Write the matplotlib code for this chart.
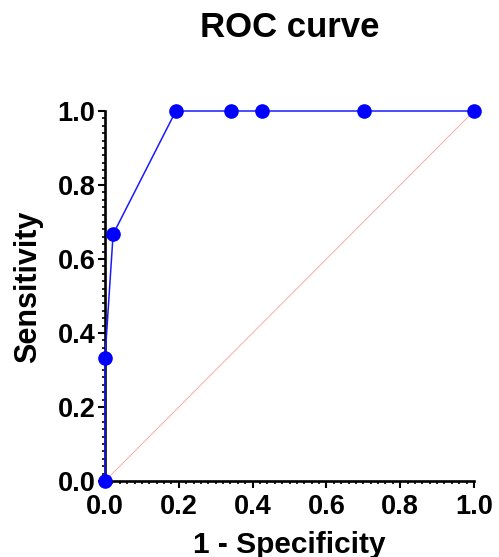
import matplotlib
matplotlib.use('Agg')
import matplotlib.pyplot as plt
from matplotlib.ticker import MultipleLocator

# ROC points
fpr = [0.0, 0.0, 0.022, 0.192, 0.341, 0.425, 0.703, 1.0]
tpr = [0.0, 0.333, 0.667, 1.0, 1.0, 1.0, 1.0, 1.0]
ref_line = [0.0, 1.0]
ticks = [0.0, 0.2, 0.4, 0.6, 0.8, 1.0]

plt.rcParams['font.family'] = ['Liberation Sans', 'DejaVu Sans']
plt.rcParams['font.weight'] = 'bold'

fig = plt.figure(figsize=(4.99, 5.57), dpi=100)
ax = fig.add_axes([105 / 499, 1 - 481 / 557, 369 / 499, 370 / 557])

# reference diagonal
ax.plot(ref_line, ref_line, color='#ff9c9c', lw=0.6, zorder=1)
ax.plot(fpr, tpr, color='#1a1aff', lw=1.1, marker='o', markersize=9.5,
        markerfacecolor='blue', markeredgecolor='blue', clip_on=False, zorder=3)

ax.set_xlim(0, 1)
ax.set_ylim(0, 1)
ax.set_xticks(ticks)
ax.set_yticks(ticks)
ax.set_xticklabels([f'{t:.1f}' for t in ticks])
ax.set_yticklabels([f'{t:.1f}' for t in ticks])
ax.xaxis.set_minor_locator(MultipleLocator(0.02))
ax.yaxis.set_minor_locator(MultipleLocator(0.02))

for s in ['top', 'right']:
    ax.spines[s].set_visible(False)
for s in ['left', 'bottom']:
    ax.spines[s].set_linewidth(1.9)

ax.tick_params(which='major', direction='out', length=5, width=1.5,
               labelsize=19.5, pad=4)
ax.tick_params(which='minor', direction='out', length=2.5, width=1.2)
ax.tick_params(axis='y', which='major', pad=2)

ax.set_xlabel('1 - Specificity', fontsize=21.5, fontweight='bold', labelpad=8)
ax.set_ylabel('Sensitivity', fontsize=22, fontweight='bold')
ax.yaxis.set_label_coords(-0.168, 0.524)

fig.text(0.58, 1 - 37 / 557, 'ROC curve', fontsize=25, fontweight='bold',
         ha='center', va='baseline')

fig.savefig('out.png', dpi=100)
plt.close(fig)
